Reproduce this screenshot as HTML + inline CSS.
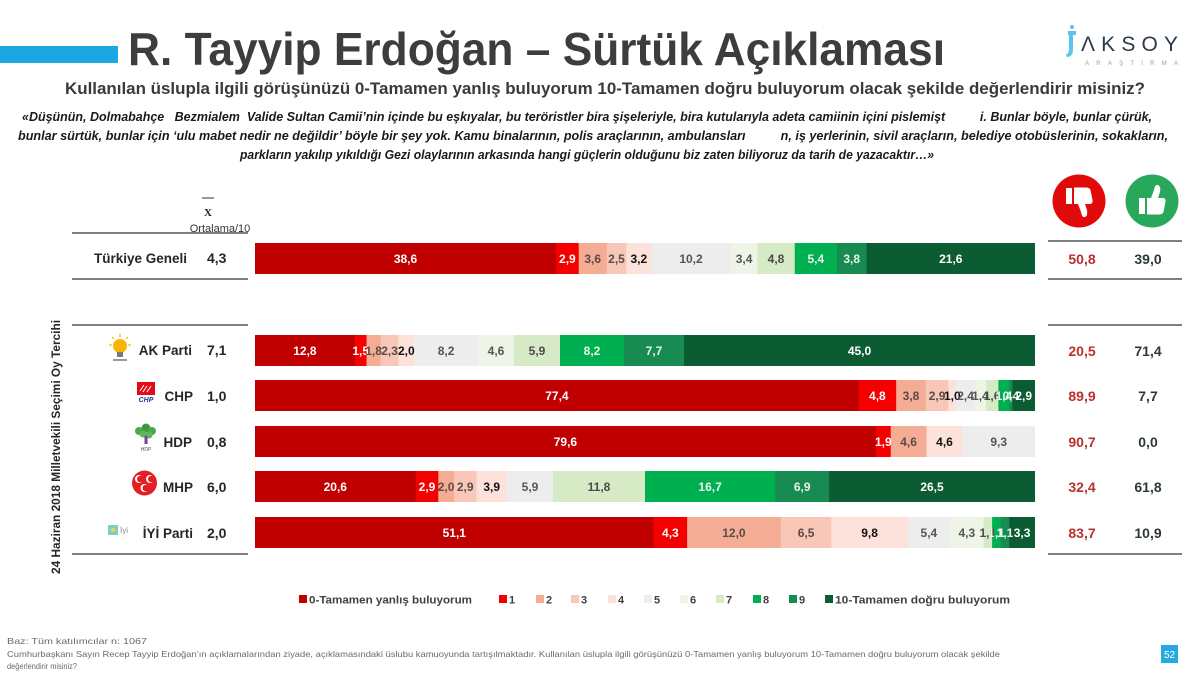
<!DOCTYPE html>
<html>
<head>
<meta charset="utf-8">
<style>
html,body{margin:0;padding:0;background:#fff;}
svg{display:block;}
text{font-family:"Liberation Sans",sans-serif;}
.bl{font-size:12px;font-weight:bold;text-anchor:middle;}
.lab{font-size:13.5px;font-weight:bold;fill:#262626;text-anchor:end;}
.mean{font-size:14px;font-weight:bold;fill:#262626;}
.rv{font-size:14px;font-weight:bold;text-anchor:middle;}
.lg{font-size:11px;font-weight:bold;fill:#404040;}
.ft{font-size:8.5px;fill:#6a6a6a;}
</style>
</head>
<body>
<svg width="1200" height="675" viewBox="0 0 1200 675" xmlns="http://www.w3.org/2000/svg">
<rect width="1200" height="675" fill="#fff"/>

<!-- Header -->
<rect x="0" y="46" width="118" height="17" fill="#1AA7E2"/>
<text x="128" y="65" font-size="46" font-weight="bold" fill="#3d3d3d" textLength="817" lengthAdjust="spacingAndGlyphs">R. Tayyip Erdoğan – Sürtük Açıklaması</text>
<text x="65" y="94" font-size="17" font-weight="bold" fill="#3a3a3a" textLength="1080" lengthAdjust="spacingAndGlyphs">Kullanılan üslupla ilgili görüşünüzü 0-Tamamen yanlış buluyorum 10-Tamamen doğru buluyorum olacak şekilde değerlendirir misiniz?</text>

<!-- Logo -->
<path d="M1068 31 h8 v4 h-3 v14 q0 8 -6 8 l-1 -3 q3 0 3 -5 v-14 h-1z" fill="#5CC4E8"/>
<circle cx="1072" cy="27" r="2" fill="#5CC4E8"/>
<text x="1081" y="51" font-size="21" fill="#2c3a4a" textLength="97" lengthAdjust="spacing">ΛKSOY</text>
<text x="1085" y="65" font-size="6" fill="#9a9a9a" textLength="93" lengthAdjust="spacing">ARAŞTIRMA</text>

<!-- Quote -->
<g font-size="13" font-weight="bold" font-style="italic" fill="#1a1a1a">
<text x="22" y="121" textLength="1130" lengthAdjust="spacingAndGlyphs" xml:space="preserve">«Düşünün, Dolmabahçe   Bezmialem  Valide Sultan Camii’nin içinde bu eşkıyalar, bu teröristler bira şişeleriyle, bira kutularıyla adeta camiinin içini pislemişt          i. Bunlar böyle, bunlar çürük,</text>
<text x="18" y="140" textLength="1150" lengthAdjust="spacingAndGlyphs" xml:space="preserve">bunlar sürtük, bunlar için ‘ulu mabet nedir ne değildir’ böyle bir şey yok. Kamu binalarının, polis araçlarının, ambulansları          n, iş yerlerinin, sivil araçların, belediye otobüslerinin, sokakların,</text>
<text x="240" y="159" textLength="694" lengthAdjust="spacingAndGlyphs">parkların yakılıp yıkıldığı Gezi olaylarının arkasında hangi güçlerin olduğunu biz zaten biliyoruz da tarih de yazacaktır…»</text>
</g>

<!-- Mean header -->
<line x1="202" y1="198" x2="214" y2="198" stroke="#333" stroke-width="1"/>
<text x="208" y="216" font-family="Liberation Serif" font-size="11" font-weight="bold" fill="#222" text-anchor="middle" style="font-family:'Liberation Serif',serif">X</text>
<text x="220" y="232" font-size="11" fill="#333" text-anchor="middle">Ortalama/10</text>

<!-- Left lines -->
<g stroke="#333" stroke-width="1.3">
<line x1="72" y1="233" x2="248" y2="233"/>
<line x1="72" y1="279" x2="248" y2="279"/>
<line x1="72" y1="325" x2="248" y2="325"/>
<line x1="72" y1="554" x2="248" y2="554"/>
<line x1="1048" y1="241" x2="1182" y2="241"/>
<line x1="1048" y1="279" x2="1182" y2="279"/>
<line x1="1048" y1="325" x2="1182" y2="325"/>
<line x1="1048" y1="554" x2="1182" y2="554"/>
</g>

<!-- Vertical label -->
<text transform="translate(60,447) rotate(-90)" font-size="12" font-weight="bold" fill="#262626" text-anchor="middle" textLength="254" lengthAdjust="spacingAndGlyphs">24 Haziran 2018 Milletvekili Seçimi Oy Tercihi</text>

<!-- Row labels -->
<text class="lab" x="187" y="263">Türkiye Geneli</text>
<text class="lab" x="192" y="355">AK Parti</text>
<text class="lab" x="193" y="401">CHP</text>
<text class="lab" x="192" y="447">HDP</text>
<text class="lab" x="193" y="492">MHP</text>
<text class="lab" x="193" y="538">İYİ Parti</text>

<text class="mean" x="207" y="263">4,3</text>
<text class="mean" x="207" y="355">7,1</text>
<text class="mean" x="207" y="401">1,0</text>
<text class="mean" x="207" y="447">0,8</text>
<text class="mean" x="207" y="492">6,0</text>
<text class="mean" x="207" y="538">2,0</text>

<!-- Party logos -->
<!-- AK -->
<g>
<g stroke="#F2B400" stroke-width="1.2">
<line x1="120" y1="334" x2="120" y2="337"/>
<line x1="112" y1="337" x2="114" y2="339"/>
<line x1="128" y1="337" x2="126" y2="339"/>
<line x1="109" y1="345" x2="112" y2="345"/>
<line x1="131" y1="345" x2="128" y2="345"/>
</g>
<circle cx="120" cy="346" r="7" fill="#F7B500"/>
<rect x="117" y="352" width="6" height="5" fill="#777"/>
<rect x="113" y="359" width="14" height="2" fill="#999"/>
</g>
<!-- CHP -->
<g>
<rect x="137" y="382" width="18" height="13" fill="#E30A17"/>
<g stroke="#fff" stroke-width="1">
<line x1="140" y1="391" x2="144" y2="385"/>
<line x1="143" y1="392" x2="147" y2="386"/>
<line x1="147" y1="392" x2="151" y2="386"/>
</g>
<text x="146" y="402" font-size="7" font-weight="bold" font-style="italic" fill="#1B3C8C" text-anchor="middle">CHP</text>
</g>
<!-- HDP -->
<g>
<circle cx="139" cy="431" r="4" fill="#4CA84C"/>
<circle cx="146" cy="428" r="4.5" fill="#3E9A3E"/>
<circle cx="152" cy="431" r="4" fill="#4CA84C"/>
<circle cx="143" cy="434" r="3.5" fill="#5DB55D"/>
<circle cx="149" cy="435" r="3.5" fill="#5DB55D"/>
<rect x="144.5" y="436" width="3" height="8" fill="#7B3F98"/>
<text x="146" y="451" font-size="5" fill="#555" text-anchor="middle">HDP</text>
</g>
<!-- MHP -->
<g>
<circle cx="144.5" cy="483" r="12.5" fill="#E31E24"/>
<circle cx="139" cy="479" r="4" fill="#fff"/><circle cx="140.3" cy="479" r="3.3" fill="#E31E24"/>
<circle cx="150" cy="479" r="4" fill="#fff"/><circle cx="151.3" cy="479" r="3.3" fill="#E31E24"/>
<circle cx="144.5" cy="488" r="4" fill="#fff"/><circle cx="145.8" cy="488" r="3.3" fill="#E31E24"/>
</g>
<!-- IYI -->
<g>
<rect x="108" y="525" width="10" height="10" fill="#7FCFC9"/>
<circle cx="113" cy="530" r="2" fill="#F3D34A"/>
<text x="120" y="533" font-size="8" fill="#8a8a8a">İyi</text>
</g>

<!-- Bars -->
<!-- Türkiye Geneli -->
<g>
<rect x="255" y="243" width="301.5" height="31" fill="#C00000"/>
<rect x="556.08" y="243" width="23" height="31" fill="#F40000"/>
<rect x="578.7" y="243" width="28.5" height="31" fill="#F4AC95"/>
<rect x="606.78" y="243" width="19.9" height="31" fill="#F8C7B7"/>
<rect x="626.28" y="243" width="25.4" height="31" fill="#FCE2DA"/>
<rect x="651.24" y="243" width="80" height="31" fill="#EDEDED"/>
<rect x="730.8" y="243" width="26.9" height="31" fill="#EEF5E6"/>
<rect x="757.32" y="243" width="37.9" height="31" fill="#D7EAC6"/>
<rect x="794.76" y="243" width="42.5" height="31" fill="#00B050"/>
<rect x="836.88" y="243" width="30" height="31" fill="#188B52"/>
<rect x="866.52" y="243" width="168.48" height="31" fill="#0C5C33"/>
<text class="bl" x="405.5" y="263" fill="#fff">38,6</text>
<text class="bl" x="567.4" y="263" fill="#fff">2,9</text>
<text class="bl" x="592.7" y="263" fill="#5B4B47">3,6</text>
<text class="bl" x="616.5" y="263" fill="#5B4B47">2,5</text>
<text class="bl" x="638.8" y="263" fill="#111">3,2</text>
<text class="bl" x="691" y="263" fill="#555">10,2</text>
<text class="bl" x="744.1" y="263" fill="#555">3,4</text>
<text class="bl" x="776" y="263" fill="#4a4a4a">4,8</text>
<text class="bl" x="815.8" y="263" fill="#E6F4EA">5,4</text>
<text class="bl" x="851.7" y="263" fill="#E6F4EA">3,8</text>
<text class="bl" x="950.8" y="263" fill="#fff">21,6</text>
</g>

<!-- AK Parti -->
<g>
<rect x="255" y="335" width="100.2" height="31" fill="#C00000"/>
<rect x="354.84" y="335" width="12.1" height="31" fill="#F40000"/>
<rect x="366.54" y="335" width="14.4" height="31" fill="#F4AC95"/>
<rect x="380.58" y="335" width="18.3" height="31" fill="#F8C7B7"/>
<rect x="398.52" y="335" width="16" height="31" fill="#FCE2DA"/>
<rect x="414.12" y="335" width="64.4" height="31" fill="#EDEDED"/>
<rect x="478.08" y="335" width="36.3" height="31" fill="#EEF5E6"/>
<rect x="513.96" y="335" width="46.4" height="31" fill="#D7EAC6"/>
<rect x="559.98" y="335" width="64.4" height="31" fill="#00B050"/>
<rect x="623.94" y="335" width="60.5" height="31" fill="#188B52"/>
<rect x="684" y="335" width="351" height="31" fill="#0C5C33"/>
<text class="bl" x="304.9" y="355" fill="#fff">12,8</text>
<text class="bl" x="360.7" y="355" fill="#fff">1,5</text>
<text class="bl" x="373.6" y="355" fill="#5B4B47">1,8</text>
<text class="bl" x="389.6" y="355" fill="#5B4B47">2,3</text>
<text class="bl" x="406.3" y="355" fill="#111">2,0</text>
<text class="bl" x="446.1" y="355" fill="#555">8,2</text>
<text class="bl" x="496" y="355" fill="#555">4,6</text>
<text class="bl" x="537" y="355" fill="#4a4a4a">5,9</text>
<text class="bl" x="592" y="355" fill="#E6F4EA">8,2</text>
<text class="bl" x="654" y="355" fill="#E6F4EA">7,7</text>
<text class="bl" x="859.5" y="355" fill="#fff">45,0</text>
</g>

<!-- CHP -->
<g>
<rect x="255" y="380" width="604.1" height="31" fill="#C00000"/>
<rect x="858.72" y="380" width="37.8" height="31" fill="#F40000"/>
<rect x="896.16" y="380" width="30" height="31" fill="#F4AC95"/>
<rect x="925.8" y="380" width="23" height="31" fill="#F8C7B7"/>
<rect x="948.42" y="380" width="8.2" height="31" fill="#FCE2DA"/>
<rect x="956.22" y="380" width="19.1" height="31" fill="#EDEDED"/>
<rect x="974.94" y="380" width="11.3" height="31" fill="#EEF5E6"/>
<rect x="985.86" y="380" width="12.9" height="31" fill="#D7EAC6"/>
<rect x="998.34" y="380" width="11.3" height="31" fill="#00B050"/>
<rect x="1009.26" y="380" width="3.5" height="31" fill="#188B52"/>
<rect x="1012.38" y="380" width="22.62" height="31" fill="#0C5C33"/>
<text class="bl" x="556.9" y="400" fill="#fff">77,4</text>
<text class="bl" x="877.4" y="400" fill="#fff">4,8</text>
<text class="bl" x="911" y="400" fill="#5B4B47">3,8</text>
<text class="bl" x="937.1" y="400" fill="#5B4B47">2,9</text>
<text class="bl" x="952.3" y="400" fill="#111">1,0</text>
<text class="bl" x="965.6" y="400" fill="#555">2,4</text>
<text class="bl" x="980.4" y="400" fill="#555">1,4</text>
<text class="bl" x="992.1" y="400" fill="#4a4a4a">1,6</text>
<text class="bl" x="1003.8" y="400" fill="#E6F4EA">1,4</text>
<text class="bl" x="1010.8" y="400" fill="#E6F4EA">0,4</text>
<text class="bl" x="1023.7" y="400" fill="#fff">2,9</text>
</g>

<!-- HDP -->
<g>
<rect x="255" y="426" width="621.3" height="31" fill="#C00000"/>
<rect x="875.88" y="426" width="15.2" height="31" fill="#F40000"/>
<rect x="890.7" y="426" width="36.3" height="31" fill="#F4AC95"/>
<rect x="926.58" y="426" width="36.3" height="31" fill="#FCE2DA"/>
<rect x="962.46" y="426" width="72.54" height="31" fill="#EDEDED"/>
<text class="bl" x="565.4" y="446" fill="#fff">79,6</text>
<text class="bl" x="883.3" y="446" fill="#fff">1,9</text>
<text class="bl" x="908.6" y="446" fill="#5B4B47">4,6</text>
<text class="bl" x="944.5" y="446" fill="#111">4,6</text>
<text class="bl" x="998.7" y="446" fill="#555">9,3</text>
</g>

<!-- MHP -->
<g>
<rect x="255" y="471" width="161.1" height="31" fill="#C00000"/>
<rect x="415.68" y="471" width="23" height="31" fill="#F40000"/>
<rect x="438.3" y="471" width="16" height="31" fill="#F4AC95"/>
<rect x="453.9" y="471" width="23" height="31" fill="#F8C7B7"/>
<rect x="476.52" y="471" width="30.8" height="31" fill="#FCE2DA"/>
<rect x="506.94" y="471" width="46.4" height="31" fill="#EDEDED"/>
<rect x="552.96" y="471" width="92.4" height="31" fill="#D7EAC6"/>
<rect x="645" y="471" width="130.6" height="31" fill="#00B050"/>
<rect x="775.26" y="471" width="54.2" height="31" fill="#188B52"/>
<rect x="829.08" y="471" width="205.92" height="31" fill="#0C5C33"/>
<text class="bl" x="335.3" y="491" fill="#fff">20,6</text>
<text class="bl" x="427" y="491" fill="#fff">2,9</text>
<text class="bl" x="446.1" y="491" fill="#5B4B47">2,0</text>
<text class="bl" x="465.2" y="491" fill="#5B4B47">2,9</text>
<text class="bl" x="491.7" y="491" fill="#111">3,9</text>
<text class="bl" x="530" y="491" fill="#555">5,9</text>
<text class="bl" x="599" y="491" fill="#4a4a4a">11,8</text>
<text class="bl" x="710.1" y="491" fill="#E6F4EA">16,7</text>
<text class="bl" x="802.2" y="491" fill="#E6F4EA">6,9</text>
<text class="bl" x="932" y="491" fill="#fff">26,5</text>
</g>

<!-- IYI Parti -->
<g>
<rect x="255" y="517" width="399" height="31" fill="#C00000"/>
<rect x="653.58" y="517" width="33.9" height="31" fill="#F40000"/>
<rect x="687.12" y="517" width="94" height="31" fill="#F4AC95"/>
<rect x="780.72" y="517" width="51.1" height="31" fill="#F8C7B7"/>
<rect x="831.42" y="517" width="76.8" height="31" fill="#FCE2DA"/>
<rect x="907.86" y="517" width="42.5" height="31" fill="#EDEDED"/>
<rect x="949.98" y="517" width="33.9" height="31" fill="#EEF5E6"/>
<rect x="983.52" y="517" width="9" height="31" fill="#D7EAC6"/>
<rect x="992.1" y="517" width="9" height="31" fill="#00B050"/>
<rect x="1000.68" y="517" width="9" height="31" fill="#188B52"/>
<rect x="1009.26" y="517" width="25.74" height="31" fill="#0C5C33"/>
<text class="bl" x="454.3" y="537" fill="#fff">51,1</text>
<text class="bl" x="670.4" y="537" fill="#fff">4,3</text>
<text class="bl" x="733.9" y="537" fill="#5B4B47">12,0</text>
<text class="bl" x="806.1" y="537" fill="#5B4B47">6,5</text>
<text class="bl" x="869.6" y="537" fill="#111">9,8</text>
<text class="bl" x="928.9" y="537" fill="#555">5,4</text>
<text class="bl" x="966.8" y="537" fill="#555">4,3</text>
<text class="bl" x="987.8" y="537" fill="#4a4a4a">1,1</text>
<text class="bl" x="996.4" y="537" fill="#E6F4EA">1,1</text>
<text class="bl" x="1005" y="537" fill="#E6F4EA">1,1</text>
<text class="bl" x="1022.1" y="537" fill="#fff">3,3</text>
</g>

<!-- Right icons -->
<circle cx="1079" cy="201" r="26.5" fill="#E10A0A"/>
<g transform="translate(1079,202) scale(1,-1)" fill="#fff">
<rect x="-13" y="-2" width="6" height="16"/>
<path d="M-5 -2 L-1 -2 L2 -10 Q3 -16 6 -15 Q9 -14 8 -8 L6 -2 L11 -2 Q14 -2 13.5 2 L11.5 12 Q10.5 14.5 7 14.5 L-5 14.5 Z"/>
</g>
<circle cx="1152" cy="201" r="26.5" fill="#27A85A"/>
<g transform="translate(1152,200)" fill="#fff">
<rect x="-13" y="-2" width="6" height="16"/>
<path d="M-5 -2 L-1 -2 L2 -10 Q3 -16 6 -15 Q9 -14 8 -8 L6 -2 L11 -2 Q14 -2 13.5 2 L11.5 12 Q10.5 14.5 7 14.5 L-5 14.5 Z"/>
</g>

<!-- Right values -->
<g class="rv">
<text class="rv" x="1082" y="264" fill="#B8312F">50,8</text>
<text class="rv" x="1148" y="264" fill="#2E3B33">39,0</text>
<text class="rv" x="1082" y="356" fill="#B8312F">20,5</text>
<text class="rv" x="1148" y="356" fill="#2E3B33">71,4</text>
<text class="rv" x="1082" y="401" fill="#B8312F">89,9</text>
<text class="rv" x="1148" y="401" fill="#2E3B33">7,7</text>
<text class="rv" x="1082" y="447" fill="#B8312F">90,7</text>
<text class="rv" x="1148" y="447" fill="#2E3B33">0,0</text>
<text class="rv" x="1082" y="492" fill="#B8312F">32,4</text>
<text class="rv" x="1148" y="492" fill="#2E3B33">61,8</text>
<text class="rv" x="1082" y="538" fill="#B8312F">83,7</text>
<text class="rv" x="1148" y="538" fill="#2E3B33">10,9</text>
</g>

<!-- Legend -->
<g>
<rect x="299" y="595" width="8" height="8" fill="#C00000"/>
<text class="lg" x="309" y="603.5" textLength="163" lengthAdjust="spacingAndGlyphs">0-Tamamen yanlış buluyorum</text>
<rect x="499" y="595" width="8" height="8" fill="#F40000"/><text class="lg" x="509" y="603.5">1</text>
<rect x="536" y="595" width="8" height="8" fill="#F4AC95"/><text class="lg" x="546" y="603.5">2</text>
<rect x="571" y="595" width="8" height="8" fill="#F8C7B7"/><text class="lg" x="581" y="603.5">3</text>
<rect x="608" y="595" width="8" height="8" fill="#FCE2DA"/><text class="lg" x="618" y="603.5">4</text>
<rect x="644" y="595" width="8" height="8" fill="#EDEDED"/><text class="lg" x="654" y="603.5">5</text>
<rect x="680" y="595" width="8" height="8" fill="#EEF5E6"/><text class="lg" x="690" y="603.5">6</text>
<rect x="716" y="595" width="8" height="8" fill="#D7EAC6"/><text class="lg" x="726" y="603.5">7</text>
<rect x="753" y="595" width="8" height="8" fill="#00B050"/><text class="lg" x="763" y="603.5">8</text>
<rect x="789" y="595" width="8" height="8" fill="#188B52"/><text class="lg" x="799" y="603.5">9</text>
<rect x="825" y="595" width="8" height="8" fill="#0C5C33"/>
<text class="lg" x="835" y="603.5" textLength="175" lengthAdjust="spacingAndGlyphs">10-Tamamen doğru buluyorum</text>
</g>

<!-- Footer -->
<text class="ft" x="7" y="644" textLength="140" lengthAdjust="spacingAndGlyphs">Baz: Tüm katılımcılar n: 1067</text>
<text class="ft" x="7" y="657" textLength="993" lengthAdjust="spacingAndGlyphs">Cumhurbaşkanı Sayın Recep Tayyip Erdoğan’ın açıklamalarından ziyade, açıklamasındaki üslubu kamuoyunda tartışılmaktadır. Kullanılan üslupla ilgili görüşünüzü 0-Tamamen yanlış buluyorum 10-Tamamen doğru buluyorum olacak şekilde</text>
<text class="ft" x="7" y="669" textLength="70" lengthAdjust="spacingAndGlyphs">değerlendirir misiniz?</text>

<rect x="1161" y="645" width="17" height="18" fill="#26A9E0"/>
<text x="1169.5" y="658" font-size="10" fill="#fff" text-anchor="middle">52</text>
</svg>
</body>
</html>
